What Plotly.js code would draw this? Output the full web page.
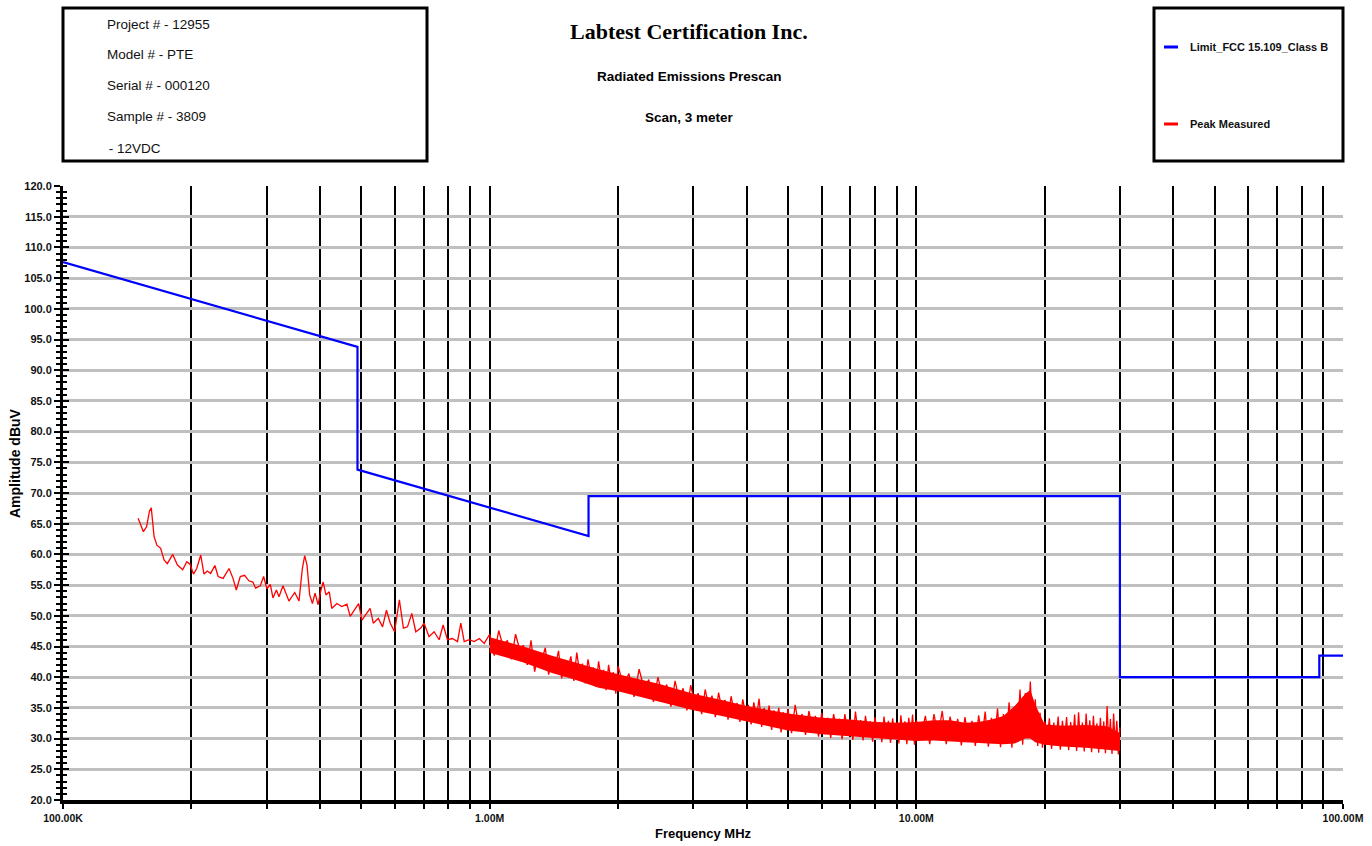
<!DOCTYPE html>
<html><head><meta charset="utf-8">
<script src="https://cdn.plot.ly/plotly-3.0.1.min.js"></script>
<style>html,body{margin:0;padding:0;background:#fff;} #chart{width:1372px;height:846px;}</style>
</head><body><div id="chart"></div>
<script>
// ---------- DATA ----------
const xTickVals = [0.1,0.2,0.3,0.4,0.5,0.6,0.7,0.8,0.9,1,2,3,4,5,6,7,8,9,10,20,30,40,50,60,70,80,90,100];
const xTickText = ['100.00K','','','','','','','','','1.00M','','','','','','','','','10.00M','','','','','','','','','100.00M'];

// Limit line FCC 15.109 Class B (MHz, dBuV)
const limitFreq = [0.1, 0.49, 0.49, 1.705, 1.705, 30, 30, 88, 88, 100];
const limitVal  = [107.6, 93.8, 73.8, 63.0, 69.5, 69.5, 40.0, 40.0, 43.5, 43.5];

// Peak measured, 150 kHz - 1 MHz
const peakFreqLow = [0.150,0.1543,0.157,0.1594,0.161,0.1635,0.166,0.1694,0.1725,0.1756,0.1808,0.1853,0.1908,0.195,0.1985,0.2022,0.2058,0.2103,0.214,0.2179,0.2218,0.227,0.231,0.2373,0.245,0.2503,0.2548,0.2603,0.2664,0.2727,0.2786,0.2828,0.29,0.2953,0.3005,0.3061,0.3105,0.3163,0.3208,0.3278,0.3385,0.3492,0.3574,0.3639,0.3685,0.3731,0.3786,0.3842,0.3898,0.3962,0.4014,0.4072,0.4133,0.4208,0.4265,0.4383,0.4504,0.4628,0.4711,0.4797,0.4931,0.5021,0.5138,0.5246,0.5336,0.5482,0.561,0.5729,0.585,0.5986,0.6143,0.6278,0.6418,0.6569,0.6712,0.6894,0.7018,0.721,0.7409,0.7614,0.778,0.7962,0.8181,0.8406,0.8559,0.8716,0.8955,0.9201,0.9453,0.9713];
const peakValLow  = [65.9,63.7,64.5,67.0,67.6,62.9,61.5,61.0,59.1,58.5,60.0,58.3,57.5,58.8,58.4,56.8,57.7,59.9,56.8,57.3,56.9,58.2,56.4,56.1,57.7,56.1,54.2,56.4,56.6,55.7,55.5,54.5,54.9,56.4,54.4,55.1,52.9,54.2,53.1,54.9,52.4,53.8,52.4,57.7,59.8,58.3,53.4,52.0,53.7,51.8,53.9,55.5,53.4,53.9,51.2,52.0,51.5,51.9,49.9,50.7,52.0,49.3,50.4,51.2,48.8,49.6,48.2,50.9,48.8,47.4,52.6,48.0,48.2,50.4,47.4,48.0,48.8,46.6,47.4,46.1,48.5,46.1,46.3,45.8,48.8,45.8,46.1,45.8,46.3,45.5];

// Peak measured, 1 MHz - 30 MHz (noise band, read as alternating peaks / troughs)
const peakFreqHigh = [1.000,1.025,1.050,1.075,1.100,1.125,1.150,1.175,1.200,1.225,1.250,1.275,1.300,1.325,1.350,1.375,1.400,1.425,1.450,1.475,1.500,1.525,1.550,1.575,1.600,1.625,1.650,1.675,1.700,1.725,1.750,1.775,1.800,1.825,1.850,1.875,1.900,1.925,1.950,1.975,2.000,
 2.06,2.12,2.18,2.24,2.30,2.36,2.42,2.48,2.54,2.60,2.66,2.72,2.78,2.84,2.90,2.96,3.02,3.08,3.14,3.20,3.26,3.32,3.38,3.44,3.50,3.56,3.62,3.68,3.74,3.80,3.86,3.92,3.98,4.04,4.10,4.16,4.22,4.28,4.34,4.40,4.46,4.52,4.58,4.64,4.70,4.76,4.82,4.88,4.94,5.00,
 5.1,5.2,5.3,5.4,5.5,5.6,5.7,5.8,5.9,6.0,6.1,6.2,6.3,6.4,6.5,6.6,6.7,6.8,6.9,7.0,7.1,7.2,7.3,7.4,7.5,7.6,7.7,7.8,7.9,8.0,8.1,8.2,8.3,8.4,8.5,8.6,8.7,8.8,8.9,9.0,9.1,9.2,9.3,9.4,9.5,9.6,9.7,9.8,9.9,10.0,
 10.25,10.5,10.75,11.0,11.25,11.5,11.75,12.0,12.25,12.5,12.75,13.0,13.25,13.5,13.75,14.0,14.25,14.5,14.75,15.0,15.25,15.5,15.75,16.0,16.25,16.5,16.75,17.0,17.25,17.5,17.75,18.0,18.25,18.5,18.75,19.0,19.25,19.5,19.75,20.0,20.25,20.5,20.75,21.0,21.25,21.5,21.75,22.0,22.25,22.5,22.75,23.0,23.25,23.5,23.75,24.0,24.25,24.5,24.75,25.0,25.25,25.5,25.75,26.0,26.25,26.5,26.75,27.0,27.25,27.5,27.75,28.0,28.25,28.5,28.75,29.0,29.25,29.5,29.75,30.0];
const peakValHigh = [47.0,43.5,47.6,45.0,46.0,42.9,47.0,44.6,45.2,42.0,46.0,40.9,44.0,42.8,44.8,40.4,43.2,41.9,44.3,39.8,42.8,41.4,43.4,39.4,44.0,40.8,42.2,39.0,42.9,40.4,41.6,38.4,42.6,39.8,41.2,37.9,42.0,39.4,40.8,37.3,41.8,
 38.6,40.6,36.8,41.3,38.2,39.6,36.0,40.0,37.0,38.8,35.2,39.4,36.4,38.2,34.6,38.7,35.8,37.4,34.0,38.0,35.3,37.0,33.5,37.5,34.8,36.3,33.1,36.9,34.3,35.8,32.7,36.4,33.9,35.5,32.3,35.9,33.5,36.5,31.9,35.0,33.1,35.4,31.4,34.6,32.6,35.0,31.0,34.3,32.3,34.8,
 30.9,35.5,32.2,34.0,30.6,34.5,31.8,33.7,30.3,34.2,31.5,33.4,30.1,34.0,31.4,33.2,29.9,34.0,31.2,33.1,29.8,34.4,31.0,33.0,29.7,33.7,30.9,32.8,29.5,33.5,30.8,32.7,29.4,33.6,30.6,32.9,29.3,33.3,30.5,32.6,29.2,33.8,30.4,32.8,29.1,33.4,30.3,33.9,29.0,33.0,
 30.3,33.7,29.1,34.0,30.4,34.5,29.1,33.6,30.2,33.2,28.9,33.5,30.1,32.9,28.8,33.8,30.0,34.4,28.7,33.4,30.0,34.9,28.6,34.0,30.2,35.9,28.5,35.2,30.4,38.0,29.0,37.4,31.0,39.3,30.2,36.4,28.8,34.2,28.5,32.8,29.8,33.3,28.3,32.6,29.6,33.6,28.2,32.9,29.5,33.5,28.1,32.7,29.4,33.9,28.0,34.3,29.3,32.6,27.9,34.1,29.2,33.0,27.8,33.7,29.1,32.5,27.7,33.4,29.0,32.8,27.6,35.3,28.9,33.2,27.5,34.1,28.8,32.9,27.4,31.8];

// Solid core of the dense noise band (upper / lower edges)
const bandFreq  = [1.0,1.2,1.4,1.6,1.8,2.0,2.5,3.0,3.5,4.0,4.5,5.0,6.0,7.0,8.0,9.0,10,11,12,13,14,15,16,17,18,18.5,19,20,22,25,28,30];
const bandUpper = [46.5,45.0,43.5,42.3,41.3,40.5,38.9,37.3,36.3,35.3,34.7,34.1,33.4,33.1,32.7,32.6,32.7,33.0,33.0,32.6,32.7,33.1,33.7,35.3,37.3,37.9,35.5,32.3,32.1,32.2,32.0,30.9];
const bandLower = [44.0,42.4,40.7,39.5,38.3,37.7,36.0,34.6,33.7,32.8,32.0,31.3,30.7,30.4,30.1,29.8,29.6,29.7,29.5,29.4,29.3,29.2,29.1,29.2,30.0,30.0,29.4,29.0,28.7,28.5,28.2,28.0];

const infoLines = ['Project # - 12955','Model # - PTE','Serial # - 000120','Sample # - 3809',' - 12VDC'];
const legendNames = ['Limit_FCC 15.109_Class B','Peak Measured'];

// ---------- PLOT ----------
const BLUE = '#0000ff', RED = '#ff0000';
const traces = [
  {x:bandFreq, y:bandLower, xaxis:'x', yaxis:'y2', mode:'lines', line:{width:0, color:RED}, hoverinfo:'skip', showlegend:false},
  {x:bandFreq, y:bandUpper, xaxis:'x', yaxis:'y2', mode:'lines', fill:'tonexty', fillcolor:RED, line:{width:0, color:RED}, hoverinfo:'skip', showlegend:false},
  {name:legendNames[0], x:limitFreq, y:limitVal, mode:'lines', line:{color:BLUE, width:2.2}},
  {name:legendNames[1], x:peakFreqLow.concat(peakFreqHigh), y:peakValLow.concat(peakValHigh), mode:'lines', line:{color:RED, width:1.3}}
];

const L = 63, R = 1343, T = 186, B = 800;
const px = v => (v - L) / (R - L);
const py = v => (B - v) / (B - T);

const ann = [];
const infoY = [24, 55, 86, 117, 148];
infoLines.forEach((t, i) => ann.push({xref:'paper', yref:'paper', x:px(i === 4 ? 103 : 105), y:py(infoY[i]), xanchor:'left', yanchor:'middle', showarrow:false, text:t, font:{size:13.5, color:'#111'}}));
ann.push({xref:'paper', yref:'paper', x:px(689), y:py(31), xanchor:'center', yanchor:'middle', showarrow:false, text:'Labtest Certification Inc.', font:{family:'"Times New Roman", "Liberation Serif", serif', size:22, weight:700, color:'#000'}});
ann.push({xref:'paper', yref:'paper', x:px(689), y:py(77), xanchor:'center', yanchor:'middle', showarrow:false, text:'Radiated Emissions Prescan', font:{size:13.5, weight:700, color:'#000'}});
ann.push({xref:'paper', yref:'paper', x:px(689), y:py(118), xanchor:'center', yanchor:'middle', showarrow:false, text:'Scan, 3 meter', font:{size:13.5, weight:700, color:'#000'}});
ann.push({xref:'paper', yref:'paper', x:px(1188), y:py(47), xanchor:'left', yanchor:'middle', showarrow:false, text:legendNames[0], font:{size:11, weight:700, color:'#111'}});
ann.push({xref:'paper', yref:'paper', x:px(1188), y:py(124), xanchor:'left', yanchor:'middle', showarrow:false, text:legendNames[1], font:{size:11, weight:700, color:'#111'}});
ann.push({xref:'paper', yref:'paper', x:px(15), y:py(463), xanchor:'center', yanchor:'middle', textangle:-90, showarrow:false, text:'Amplitude dBuV', font:{size:14, weight:700, color:'#000'}});

const shapes = [
  {type:'rect', xref:'paper', yref:'paper', x0:px(63), x1:px(427), y0:py(161), y1:py(8), line:{color:'#000', width:3}},
  {type:'rect', xref:'paper', yref:'paper', x0:px(1154), x1:px(1343), y0:py(161), y1:py(8), line:{color:'#000', width:3}},
  {type:'line', xref:'paper', yref:'paper', x0:px(1164), x1:px(1178), y0:py(47), y1:py(47), line:{color:BLUE, width:3}},
  {type:'line', xref:'paper', yref:'paper', x0:px(1164), x1:px(1178), y0:py(124), y1:py(124), line:{color:RED, width:3}}
];

const layout = {
  width:1372, height:846,
  margin:{l:L, r:1372-R, t:T, b:846-B, pad:0},
  paper_bgcolor:'#fff', plot_bgcolor:'#fff',
  showlegend:false, hovermode:false,
  font:{family:'Arial, "Liberation Sans", sans-serif', color:'#000'},
  xaxis:{type:'log', range:[-1,2], tickmode:'array', tickvals:xTickVals, ticktext:xTickText,
    showgrid:true, gridcolor:'#000', gridwidth:2, ticks:'outside', ticklen:5, tickwidth:2, tickcolor:'#000',
    showline:true, linecolor:'#000', linewidth:4, zeroline:false,
    tickfont:{size:10.5, weight:700, color:'#111'},
    title:{text:'Frequency MHz', font:{size:13, weight:700, color:'#000'}, standoff:7}},
  yaxis:{range:[20,120], tick0:20, dtick:5, tickformat:'.1f', showgrid:true, gridcolor:'#c0c0c0', gridwidth:3,
    ticks:'outside', ticklen:6, tickwidth:2, tickcolor:'#000', showline:true, linecolor:'#000', linewidth:3, zeroline:false,
    minor:{dtick:1, ticks:'outside', ticklen:4, tickwidth:2, tickcolor:'#000', showgrid:false},
    tickfont:{size:11, weight:700, color:'#111'}},
  yaxis2:{overlaying:'y', anchor:'x', side:'left', range:[20,120], tick0:20, dtick:5, ticks:'inside', ticklen:6, tickwidth:2, tickcolor:'#000',
    showticklabels:false, showgrid:false, zeroline:false, showline:false,
    minor:{dtick:1, ticks:'inside', ticklen:4, tickwidth:2, tickcolor:'#000', showgrid:false}},
  shapes:shapes, annotations:ann
};

Plotly.newPlot('chart', traces, layout, {displayModeBar:false, staticPlot:true});
</script></body></html>
